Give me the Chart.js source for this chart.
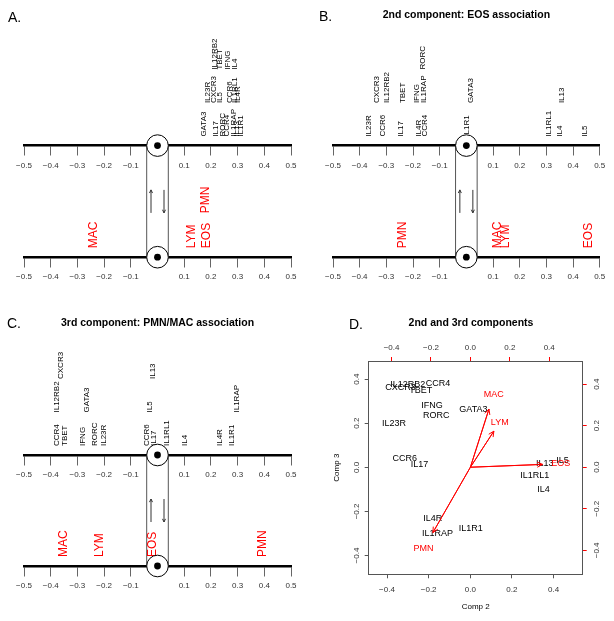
<!DOCTYPE html>
<html>
<head>
<meta charset="utf-8">
<script src="https://cdn.jsdelivr.net/npm/chart.js@4.4.0/dist/chart.umd.min.js"></script>
<style>
  html, body { margin: 0; padding: 0; background: #fff; }
  #wrap { position: relative; width: 614px; height: 621px; overflow: hidden; }
  canvas { position: absolute; }
</style>
</head>
<body>
<div id="wrap">
  <canvas id="pa" width="307" height="300" style="left:0;top:0"></canvas>
  <canvas id="pb" width="307" height="300" style="left:307px;top:0"></canvas>
  <canvas id="pc" width="307" height="321" style="left:0;top:300px"></canvas>
  <canvas id="pd" width="307" height="321" style="left:307px;top:300px"></canvas>
</div>
<script>
// gene loadings (order is also the order labels get stacked in)
const genes = ["CCR4", "IL1R1", "CCR6", "IL17", "IL4R", "IL4", "IL1RAP", "IL5", "IL13",
               "IFNG", "GATA3", "IL23R", "IL12RB2", "TBET", "CXCR3", "RORC", "IL1RL1"];
const comp1 = [0.259, 0.312, 0.272, 0.219, 0.300, 0.291, 0.284, 0.234, 0.298,
               0.263, 0.175, 0.190, 0.215, 0.232, 0.209, 0.244, 0.290];
const comp2 = [-0.155, 0.002, -0.315, -0.244, -0.180, 0.352, -0.158, 0.443, 0.358,
               -0.184, 0.015, -0.366, -0.300, -0.238, -0.335, -0.163, 0.310];
const comp3 = [0.378, -0.278, 0.041, 0.014, -0.232, -0.101, -0.298, 0.029, 0.016,
               0.278, 0.263, 0.200, 0.376, 0.349, 0.362, 0.236, -0.035];

// cell type scores
const cells = ["MAC", "LYM", "EOS", "PMN"];
const cellComp1 = [-0.238, 0.128, 0.184, 0.180];
const cellComp2 = [0.118, 0.149, 0.458, -0.238];
const cellComp3 = [0.350, 0.217, 0.017, -0.393];

// biplot axis ranges (bottom/left for genes, top/right for cells)
const comp2Range = [-0.488, 0.540];
const comp3Range = [-0.485, 0.482];
const cellComp2Range = [-0.516, 0.570];
const cellComp3Range = [-0.515, 0.511];

const FONT = "'Liberation Sans', Arial, Helvetica, sans-serif";
Chart.defaults.font.family = FONT;
Chart.defaults.animation = false;

function fmt(v) {
  const s = Math.abs(v) < 1e-9 ? "0.0" : v.toFixed(1);
  return s.replace("-", "\u2212");
}

// greedy: each label goes to the lowest tier with no close neighbour
function stackTiers(xs, sep, maxTier) {
  const placed = [];
  return xs.map(x => {
    let best = 0, bestGap = -1, t;
    for (t = 0; t < maxTier; t++) {
      const gaps = placed.filter(p => p.t === t).map(p => Math.abs(p.x - x));
      const g = gaps.length ? Math.min(...gaps) : Infinity;
      if (g >= sep) break;
      if (g > bestGap) { bestGap = g; best = t; }
    }
    if (t === maxTier) t = best;
    placed.push({ x, t });
    return t;
  });
}

function vtext(ctx, s, x, yBottom, font, color) {
  ctx.save();
  ctx.translate(x, yBottom);
  ctx.rotate(-Math.PI / 2);
  ctx.font = font;
  ctx.fillStyle = color;
  ctx.textAlign = "left";
  ctx.textBaseline = "middle";
  ctx.fillText(s, 0, 0);
  ctx.restore();
}

function arrow(ctx, x1, y1, x2, y2, len, ang) {
  const a = Math.atan2(y2 - y1, x2 - x1);
  ctx.beginPath();
  ctx.moveTo(x1, y1);
  ctx.lineTo(x2, y2);
  ctx.moveTo(x2 - len * Math.cos(a - ang), y2 - len * Math.sin(a - ang));
  ctx.lineTo(x2, y2);
  ctx.lineTo(x2 - len * Math.cos(a + ang), y2 - len * Math.sin(a + ang));
  ctx.stroke();
}

function heading(ctx, letter, lx, ly, title, tx, ty) {
  ctx.save();
  ctx.fillStyle = "#000";
  ctx.textBaseline = "middle";
  ctx.textAlign = "left";
  ctx.font = "14px " + FONT;
  ctx.fillText(letter, lx, ly);
  if (title) {
    ctx.textAlign = "center";
    ctx.font = "bold 10.5px " + FONT;
    ctx.fillText(title, tx, ty);
  }
  ctx.restore();
}

// panels A-C: two number lines joined at zero
function ladder(id, o) {
  const cv = document.getElementById(id);
  const H = cv.height;
  const xAxis = yPos => ({
    type: "linear", min: -0.5, max: 0.5,
    position: { y: yPos },
    ticks: {
      stepSize: 0.1, autoSkip: false, maxRotation: 0, color: "#333",
      font: { size: 8 }, padding: 6,
      callback: v => Math.abs(v) < 1e-9 ? "" : fmt(v)
    },
    grid: { drawOnChartArea: false, tickLength: 9, color: "#666", lineWidth: 1 },
    border: { color: "#000", width: 2.5 }
  });

  const decor = {
    id: "decor",
    afterDraw(chart) {
      const ctx = chart.ctx;
      const yS = chart.scales.y;
      const yT = yS.getPixelForValue(o.topY);
      const yB = yS.getPixelForValue(o.botY);
      const cx = chart.scales.xt.getPixelForValue(0);
      const r = 10.8;
      ctx.save();
      ctx.strokeStyle = "#555";
      ctx.lineWidth = 1;
      ctx.beginPath();
      ctx.moveTo(cx - r, yT); ctx.lineTo(cx - r, yB);
      ctx.moveTo(cx + r, yT); ctx.lineTo(cx + r, yB);
      ctx.stroke();
      const mid = (yT + yB) / 2;
      ctx.strokeStyle = "#333";
      arrow(ctx, cx - 6.5, mid + 11.5, cx - 6.5, mid - 11.5, 3.5, 0.45);
      arrow(ctx, cx + 6.5, mid - 11.5, cx + 6.5, mid + 11.5, 3.5, 0.45);

      // gene labels above the upper line
      const gx = chart.getDatasetMeta(0).data.map(p => p.x);
      const gt = stackTiers(gx, 5.8, 3);
      gx.forEach((x, i) => {
        vtext(ctx, genes[i], x, yT - 9 - gt[i] * 33.5, "8px " + FONT, "#000");
      });
      // cell labels above the lower line
      const cxs = chart.getDatasetMeta(1).data.map(p => p.x);
      const ct = stackTiers(cxs, 8, 3);
      cxs.forEach((x, i) => {
        vtext(ctx, cells[i], x, yB - 9 - ct[i] * 35, "12px " + FONT, "#ff0000");
      });

      [yT, yB].forEach(y => {
        ctx.beginPath();
        ctx.arc(cx, y, r, 0, 2 * Math.PI);
        ctx.fillStyle = "#fff";
        ctx.fill();
        ctx.strokeStyle = "#000";
        ctx.lineWidth = 1;
        ctx.stroke();
        ctx.beginPath();
        ctx.arc(cx, y, 3.4, 0, 2 * Math.PI);
        ctx.fillStyle = "#000";
        ctx.fill();
      });
      ctx.restore();
      heading(ctx, o.letter, o.letterX, o.letterY, o.title, cx, o.titleY);
    }
  };

  return new Chart(cv, {
    type: "scatter",
    data: {
      datasets: [
        { label: "genes", xAxisID: "xt", yAxisID: "y", pointRadius: 0,
          data: o.geneVals.map(v => ({ x: v, y: o.topY })) },
        { label: "cells", xAxisID: "xb", yAxisID: "y", pointRadius: 0,
          data: o.cellVals.map(v => ({ x: v, y: o.botY })) }
      ]
    },
    options: {
      responsive: false,
      events: [],
      layout: { padding: { left: o.padL, right: o.padR, top: 0, bottom: 0 } },
      scales: {
        y: { type: "linear", display: false, min: 0, max: H, reverse: true },
        xt: xAxis(o.topY),
        xb: xAxis(o.botY)
      },
      plugins: { legend: { display: false }, tooltip: { enabled: false } }
    },
    plugins: [decor]
  });
}

ladder("pa", {
  letter: "A.", letterX: 8, letterY: 18, title: "", titleY: 15,
  topY: 145.6, botY: 257.2, padL: 24, padR: 16,
  geneVals: comp1, cellVals: cellComp1
});
ladder("pb", {
  letter: "B.", letterX: 12, letterY: 17, title: "2nd component: EOS association", titleY: 15,
  topY: 145.6, botY: 257.2, padL: 26, padR: 14.3,
  geneVals: comp2, cellVals: cellComp2
});
// panel C shows the 3rd component with its sign flipped
ladder("pc", {
  letter: "C.", letterX: 7, letterY: 24, title: "3rd component: PMN/MAC association", titleY: 23,
  topY: 155, botY: 266, padL: 24, padR: 16,
  geneVals: comp3.map(v => -v), cellVals: cellComp3.map(v => -v)
});

// panel D: biplot of components 2 and 3
const biTicks = (rot, pad) => ({
  stepSize: 0.2, includeBounds: false, autoSkip: false, color: "#333",
  font: { size: 8 }, padding: pad, minRotation: rot, maxRotation: rot,
  crossAlign: "center", callback: v => fmt(v)
});
const biGrid = c => ({ drawOnChartArea: false, tickLength: 4, color: c, lineWidth: 1 });
const boxBorder = { color: "#555", width: 1 };

const biplotDecor = {
  id: "biplotDecor",
  afterDraw(chart) {
    const ctx = chart.ctx;
    const a = chart.chartArea;
    ctx.save();
    ctx.textAlign = "center";
    ctx.textBaseline = "middle";
    ctx.font = "9px " + FONT;
    ctx.fillStyle = "#000";
    chart.getDatasetMeta(0).data.forEach((p, i) => ctx.fillText(genes[i], p.x, p.y));
    // arrow heads for the cell vectors
    ctx.strokeStyle = "#ff0000";
    ctx.lineWidth = 1;
    cells.forEach((c, i) => {
      const pts = chart.getDatasetMeta(2 + i).data;
      arrow(ctx, pts[0].x, pts[0].y, pts[1].x, pts[1].y, 6, 0.45);
    });
    ctx.fillStyle = "#ff0000";
    chart.getDatasetMeta(1).data.forEach((p, i) => ctx.fillText(cells[i], p.x, p.y));

    ctx.fillStyle = "#000";
    ctx.font = "8px " + FONT;
    ctx.fillText("Comp 2", (a.left + a.right) / 2, 307);
    ctx.save();
    ctx.translate(30, (a.top + a.bottom) / 2);
    ctx.rotate(-Math.PI / 2);
    ctx.fillText("Comp 3", 0, 0);
    ctx.restore();
    ctx.restore();
    heading(ctx, "D.", 42, 25, "2nd and 3rd components", 164, 23);
  }
};

new Chart(document.getElementById("pd"), {
  type: "scatter",
  data: {
    datasets: [
      { label: "genes", xAxisID: "x", yAxisID: "y", pointRadius: 0,
        data: genes.map((g, i) => ({ x: comp2[i], y: comp3[i] })) },
      { label: "cells", xAxisID: "x2", yAxisID: "y2", pointRadius: 0,
        data: cells.map((c, i) => ({ x: cellComp2[i], y: cellComp3[i] })) },
      // biplot arrows run to 0.8 of each cell score
      ...cells.map((c, i) => ({
        type: "line", label: c, xAxisID: "x2", yAxisID: "y2",
        data: [{ x: 0, y: 0 }, { x: 0.8 * cellComp2[i], y: 0.8 * cellComp3[i] }],
        borderColor: "#ff0000", borderWidth: 1, pointRadius: 0, fill: false
      }))
    ]
  },
  options: {
    responsive: false,
    events: [],
    layout: { padding: 0 },
    scales: {
      x: { type: "linear", position: "bottom", min: comp2Range[0], max: comp2Range[1],
           ticks: biTicks(0, 11), grid: biGrid("#555"), border: boxBorder,
           afterFit: s => { s.height = 46.7; } },
      y: { type: "linear", position: "left", min: comp3Range[0], max: comp3Range[1],
           ticks: biTicks(90, 0), grid: biGrid("#555"), border: boxBorder,
           afterFit: s => { s.width = 61.7; } },
      x2: { type: "linear", position: "top", min: cellComp2Range[0], max: cellComp2Range[1],
            ticks: biTicks(0, 9.5), grid: biGrid("#ff0000"), border: boxBorder,
            afterFit: s => { s.height = 61; } },
      y2: { type: "linear", position: "right", min: cellComp3Range[0], max: cellComp3Range[1],
            ticks: biTicks(90, 2.5), grid: biGrid("#ff0000"), border: boxBorder,
            afterFit: s => { s.width = 31.3; } }
    },
    plugins: { legend: { display: false }, tooltip: { enabled: false } }
  },
  plugins: [biplotDecor]
});
</script>
</body>
</html>
